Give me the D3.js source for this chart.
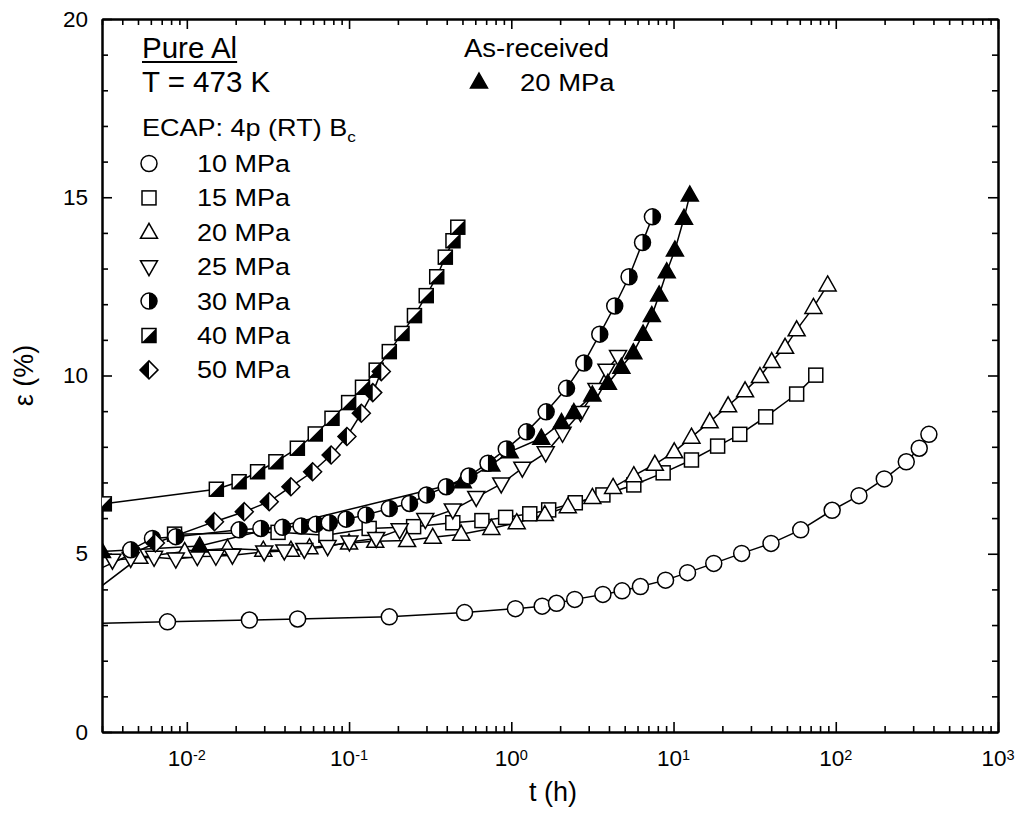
<!DOCTYPE html>
<html><head><meta charset="utf-8">
<script src="https://cdn.jsdelivr.net/npm/d3@7"></script>
<style>
body{margin:0;background:#fff;}
text{font-family:"Liberation Sans",Arial,Helvetica,sans-serif;fill:#000;}
</style>
</head><body>
<svg id="chart" width="1032" height="817"></svg>
<script>
// ---------------- data ----------------
const t10 = [0.0025,0.0076,0.0243,0.0482,0.177,0.515,1.06,1.55,1.90,2.46,3.67,4.82,6.25,8.93,12.2,17.7,26.3,39.9,60.8,95,139,199,272,327,375];
const e10 = [3.04,3.09,3.14,3.17,3.23,3.35,3.46,3.53,3.61,3.72,3.86,3.96,4.08,4.26,4.47,4.73,5.01,5.29,5.67,6.22,6.63,7.10,7.58,7.96,8.35];

const t15 = [0.0084,0.0365,0.072,0.133,0.25,0.436,0.659,0.923,1.30,1.70,2.48,3.67,5.69,8.63,12.9,18.7,25.6,37.0,57.4,75.3];
const e15 = [5.55,5.60,5.52,5.71,5.76,5.87,5.93,6.02,6.12,6.23,6.43,6.65,6.93,7.27,7.63,8.02,8.35,8.84,9.48,10.01];

const t20 = [0.0025,0.0051,0.0097,0.0178,0.0296,0.0438,0.057,0.1,0.145,0.228,0.328,0.491,0.753,1.08,1.61,2.23,3.16,4.24,5.69,7.67,10.1,12.9,16.7,21.7,27.6,34.1,40.3,48.7,57.4,72.8,89.1];
const e20 = [3.83,4.9,5.06,5.15,5.1,5.1,5.17,5.3,5.35,5.37,5.46,5.55,5.71,5.87,6.10,6.32,6.58,6.86,7.19,7.51,7.86,8.27,8.70,9.15,9.57,9.97,10.39,10.79,11.28,11.91,12.54];

const t25 = [0.00348,0.00451,0.00628,0.00855,0.0116,0.0151,0.0191,0.030,0.0399,0.053,0.0738,0.1005,0.147,0.205,0.295,0.436,0.608,0.867,1.17,1.63,2.07,2.67,3.35,3.86,4.55];
const e25 = [4.82,4.87,4.9,4.85,4.92,4.93,4.96,5.05,5.08,5.12,5.2,5.33,5.43,5.67,5.96,6.23,6.58,6.96,7.40,7.83,8.38,8.96,9.61,10.15,10.53];

const t30 = [0.00451,0.00614,0.00855,0.021,0.0286,0.0389,0.0506,0.0625,0.0755,0.0958,0.127,0.177,0.236,0.30,0.397,0.547,0.718,0.931,1.24,1.64,2.19,2.8,3.51,4.34,5.32,6.44,7.41];
const e30 = [5.11,5.43,5.48,5.67,5.71,5.74,5.78,5.83,5.87,5.97,6.09,6.27,6.41,6.65,6.88,7.18,7.54,7.94,8.42,8.98,9.64,10.35,11.16,11.95,12.77,13.73,14.45];

const t40 = [0.0031,0.0152,0.021,0.0273,0.0354,0.048,0.0619,0.0785,0.0994,0.121,0.147,0.177,0.212,0.253,0.299,0.347,0.392,0.437,0.468];
const e40 = [6.40,6.81,7.02,7.30,7.58,7.96,8.36,8.80,9.24,9.67,10.15,10.67,11.18,11.68,12.24,12.77,13.32,13.78,14.16];

const t50 = [0.0025,0.0064,0.0148,0.0226,0.0322,0.0438,0.0596,0.0775,0.097,0.119,0.140,0.158];
const e50 = [4.44,5.3,5.90,6.18,6.46,6.88,7.30,7.77,8.29,8.94,9.52,10.11];

const tAR = [0.003,0.012,0.502,0.753,0.977,1.53,2.04,2.43,3.16,3.94,4.77,5.65,6.49,7.35,8.15,9.08,10.2,11.6,12.6];
const eAR = [5.06,5.22,7.02,7.49,7.86,8.24,8.68,8.96,9.45,9.78,10.23,10.64,11.16,11.68,12.26,12.91,13.52,14.41,15.06];

const legendLabels = ["10 MPa","15 MPa","20 MPa","25 MPa","30 MPa","40 MPa","50 MPa"];
const xMajorTicks = [0.01,0.1,1,10,100,1000];
const xTickExp = ["-2","-1","0","1","2","3"];
const yMajorTicks = [0,5,10,15,20];

// ---------------- layout ----------------
const W = 1032, H = 817;
const m = {left:102, top:19, right:34, bottom:85};
const pw = W - m.left - m.right, ph = H - m.top - m.bottom;
const svg = d3.select("#chart");

const x = d3.scaleLog().domain([0.003,1000]).range([m.left, m.left+pw]);
const y = d3.scaleLinear().domain([0,20]).range([m.top+ph, m.top]);

// minor ticks
const xMinor = [];
for (let p=-3;p<3;p++) for (let k=2;k<10;k++){const v=k*Math.pow(10,p); if(v>=0.003 && v<=1000) xMinor.push(v);}
const yMinor = d3.range(0,21,1).filter(v=>v%5!==0);

function styleAxis(g){
  g.selectAll("path.domain").attr("stroke","#000").attr("stroke-width",2);
  g.selectAll(".tick line").attr("stroke","#000").attr("stroke-width",1.6);
  g.selectAll("text").remove();
}
// bottom
svg.append("g").attr("transform",`translate(0,${m.top+ph})`)
  .call(d3.axisBottom(x).tickValues(xMinor).tickSize(-6).tickSizeOuter(0).tickFormat("")).call(styleAxis);
svg.append("g").attr("transform",`translate(0,${m.top+ph})`)
  .call(d3.axisBottom(x).tickValues(xMajorTicks).tickSize(-10).tickSizeOuter(0).tickFormat("")).call(styleAxis);
// top
svg.append("g").attr("transform",`translate(0,${m.top})`)
  .call(d3.axisTop(x).tickValues(xMinor).tickSize(-6).tickSizeOuter(0).tickFormat("")).call(styleAxis);
svg.append("g").attr("transform",`translate(0,${m.top})`)
  .call(d3.axisTop(x).tickValues(xMajorTicks).tickSize(-10).tickSizeOuter(0).tickFormat("")).call(styleAxis);
// left
svg.append("g").attr("transform",`translate(${m.left},0)`)
  .call(d3.axisLeft(y).tickValues(yMinor).tickSize(-6).tickSizeOuter(0).tickFormat("")).call(styleAxis);
const gl = svg.append("g").attr("transform",`translate(${m.left},0)`)
  .call(d3.axisLeft(y).tickValues(yMajorTicks).tickSize(-10).tickSizeOuter(0).tickPadding(14));
gl.selectAll("path.domain").attr("stroke","#000").attr("stroke-width",2);
gl.selectAll(".tick line").attr("stroke","#000").attr("stroke-width",1.6);
gl.selectAll("text").attr("font-size",22.5).attr("font-family","Liberation Sans, Arial, sans-serif").attr("fill","#000");
// right
svg.append("g").attr("transform",`translate(${m.left+pw},0)`)
  .call(d3.axisRight(y).tickValues(yMinor).tickSize(-6).tickSizeOuter(0).tickFormat("")).call(styleAxis);
svg.append("g").attr("transform",`translate(${m.left+pw},0)`)
  .call(d3.axisRight(y).tickValues(yMajorTicks).tickSize(-10).tickSizeOuter(0).tickFormat("")).call(styleAxis);

// x tick labels with superscripts
xMajorTicks.forEach((v,i)=>{
  const t = svg.append("text").attr("x",x(v)).attr("y",m.top+ph+34).attr("text-anchor","middle").attr("font-size",22.5);
  t.append("tspan").text("10");
  t.append("tspan").attr("font-size",14.5).attr("dy",-6).text(xTickExp[i]);
});

// axis titles
svg.append("text").attr("x",m.left+pw/2+3).attr("y",801).attr("text-anchor","middle").attr("font-size",27).text("t (h)");
svg.append("text").attr("transform",`translate(33,${m.top+ph/2}) rotate(-90)`).attr("text-anchor","middle").attr("font-size",27).text("ε (%)");

// ---------------- markers ----------------
const SW = 1.5;
function marker(g, type, cx, cy){
  if(type==="circle"){
    g.append("circle").attr("cx",cx).attr("cy",cy).attr("r",8).attr("fill","#fff").attr("stroke","#000").attr("stroke-width",SW);
  } else if(type==="square"){
    g.append("rect").attr("x",cx-7).attr("y",cy-7).attr("width",14).attr("height",14).attr("fill","#fff").attr("stroke","#000").attr("stroke-width",SW);
  } else if(type==="up" || type==="upfill"){
    g.append("path").attr("d",`M${cx},${cy-9}L${cx+8.5},${cy+6}L${cx-8.5},${cy+6}Z`)
      .attr("fill",type==="upfill"?"#000":"#fff").attr("stroke","#000").attr("stroke-width",SW);
  } else if(type==="down"){
    g.append("path").attr("d",`M${cx},${cy+9}L${cx+8.5},${cy-6}L${cx-8.5},${cy-6}Z`)
      .attr("fill","#fff").attr("stroke","#000").attr("stroke-width",SW);
  } else if(type==="halfcircle"){
    g.append("circle").attr("cx",cx).attr("cy",cy).attr("r",8).attr("fill","#fff");
    g.append("path").attr("d",`M${cx},${cy-8}A8,8 0 0 1 ${cx},${cy+8}Z`).attr("fill","#000");
    g.append("circle").attr("cx",cx).attr("cy",cy).attr("r",8).attr("fill","none").attr("stroke","#000").attr("stroke-width",SW);
  } else if(type==="halfsquare"){
    g.append("rect").attr("x",cx-7).attr("y",cy-7).attr("width",14).attr("height",14).attr("fill","#fff");
    g.append("path").attr("d",`M${cx+7},${cy-7}L${cx+7},${cy+7}L${cx-7},${cy+7}Z`).attr("fill","#000");
    g.append("rect").attr("x",cx-7).attr("y",cy-7).attr("width",14).attr("height",14).attr("fill","none").attr("stroke","#000").attr("stroke-width",SW);
  } else if(type==="halfdiamond"){
    const r=9;
    g.append("path").attr("d",`M${cx},${cy-r}L${cx+r},${cy}L${cx},${cy+r}L${cx-r},${cy}Z`).attr("fill","#fff");
    g.append("path").attr("d",`M${cx},${cy-r}L${cx-r},${cy}L${cx},${cy+r}Z`).attr("fill","#000");
    g.append("path").attr("d",`M${cx},${cy-r}L${cx+r},${cy}L${cx},${cy+r}L${cx-r},${cy}Z`).attr("fill","none").attr("stroke","#000").attr("stroke-width",SW);
  }
}

const series = [
  {t:t10, e:e10, type:"circle"},
  {t:t15, e:e15, type:"square"},
  {t:t20, e:e20, type:"up"},
  {t:t25, e:e25, type:"down"},
  {t:tAR, e:eAR, type:"upfill"},
  {t:t30, e:e30, type:"halfcircle"},
  {t:t40, e:e40, type:"halfsquare"},
  {t:t50, e:e50, type:"halfdiamond"}
];

svg.append("clipPath").attr("id","plotclip").append("rect")
  .attr("x",m.left).attr("y",m.top).attr("width",pw).attr("height",ph);
const plot = svg.append("g").attr("clip-path","url(#plotclip)");
const line = d3.line().x(d=>x(d[0])).y(d=>y(d[1]));
series.forEach(s=>{
  const pts = s.t.map((v,i)=>[v,s.e[i]]);
  plot.append("path").attr("d",line(pts)).attr("fill","none").attr("stroke","#000").attr("stroke-width",1.5);
});
series.forEach(s=>{
  const g = plot.append("g");
  s.t.forEach((v,i)=>marker(g, s.type, x(v), y(s.e[i])));
});

// ---------------- legend / annotations ----------------
const pa = svg.append("text").attr("x",142).attr("y",58).attr("font-size",29.5).text("Pure Al");
const paw = pa.node().getComputedTextLength();
svg.append("line").attr("x1",142).attr("x2",142+paw).attr("y1",62).attr("y2",62).attr("stroke","#000").attr("stroke-width",1.8);
svg.append("text").attr("x",142).attr("y",92).attr("font-size",29.5).text("T = 473 K");
const ec = svg.append("text").attr("transform","translate(142,136) scale(1.15,1)").attr("font-size",23.5);
ec.append("tspan").text("ECAP: 4p (RT) B");
ec.append("tspan").attr("font-size",15).attr("dy",6).text("c");

const legTypes = ["circle","square","up","down","halfcircle","halfsquare","halfdiamond"];
const leg = svg.append("g");
legTypes.forEach((tp,i)=>{
  const cy = 163.5 + i*34.4;
  marker(leg, tp, 149, cy);
  leg.append("text").attr("transform",`translate(197,${cy+8.4}) scale(1.15,1)`).attr("font-size",23.5).text(legendLabels[i]);
});
svg.append("text").attr("transform","translate(464,57) scale(1.1,1)").attr("font-size",25).text("As-received");
marker(leg, "upfill", 479, 82);
svg.append("text").attr("transform","translate(520,91) scale(1.12,1)").attr("font-size",24.5).text("20 MPa");
</script>
</body></html>
